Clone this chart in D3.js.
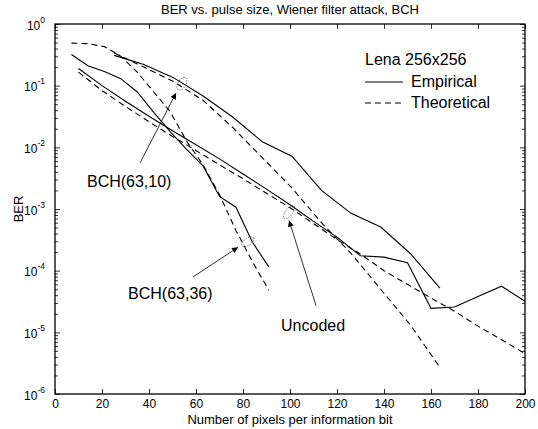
<!DOCTYPE html>
<html>
<head>
<meta charset="utf-8">
<script src="https://cdn.jsdelivr.net/npm/d3@7"></script>
<style>
  body { margin: 0; background: #fff; }
  svg { font-family: "Liberation Sans", Arial, Helvetica, sans-serif; }
</style>
</head>
<body>
<div id="chart"></div>
<script>

// ---- data ----
const xTicks = [0, 20, 40, 60, 80, 100, 120, 140, 160, 180, 200];
const yDecades = [0, -1, -2, -3, -4, -5, -6];

// uncoded
const uncodedX = [10, 20, 30, 40, 50, 60, 70, 80, 90, 100, 110, 120, 130, 140, 150, 160, 170, 180, 190, 200];
const uncodedEmp = [0.19, 0.10, 0.056, 0.032, 0.0186, 0.011, 0.0065, 0.0037, 0.0021, 0.00117,
  6.3e-4, 3.5e-4, 1.74e-4, 1.66e-4, 1.35e-4, 2.45e-5, 2.57e-5, 3.8e-5, 5.6e-5, 3.2e-5];
const uncodedTheo = [0.166, 0.083, 0.046, 0.026, 0.015, 0.0089, 0.0052, 0.0031, 0.0018, 0.00105,
  5.8e-4, 3.2e-4, 1.85e-4, 1.0e-4, 6.0e-5, 3.6e-5, 2.2e-5, 1.26e-5, 7.6e-6, 4.5e-6];

// BCH(63,36)
const bch36X = [7, 14, 21, 28, 35, 42, 49, 56, 63, 70, 77, 84, 91];
const bch36Emp = [0.32, 0.21, 0.17, 0.13, 0.079, 0.037, 0.018, 0.0093, 0.005, 0.0016, 0.00107, 2.9e-4, 1.15e-4];
const bch36Theo = [0.49, 0.48, 0.43, 0.30, 0.166, 0.079, 0.038, 0.0126, 0.0052, 0.0017, 4.5e-4, 1.4e-4, 4.8e-5];

// BCH(63,10)
const bch10X = [25.2, 37.8, 50.4, 63, 75.6, 88.2, 100.8, 113.4, 126, 138.6, 151.2, 163.8];
const bch10Emp = [0.31, 0.22, 0.135, 0.068, 0.031, 0.0123, 0.0072, 0.002, 8.5e-4, 5.1e-4, 1.9e-4, 5.2e-5];
const bch10Theo = [0.34, 0.2, 0.117, 0.058, 0.021, 0.0068, 0.0022, 6.0e-4, 1.9e-4, 5.0e-5, 1.32e-5, 2.7e-6];

// annotations: label, text anchor (x, BER), arrow tail and head (x, BER), ellipse centre (x, BER)
const annLabels = ["BCH(63,10)", "BCH(63,36)", "Uncoded"];
const annText = [[13.6, 2.3e-3], [31.1, 3.5e-5], [96.2, 1.05e-5]];
const annFrom = [[36.2, 5.6e-3], [58.7, 7.9e-5], [111.1, 2.7e-5]];
const annTo = [[51.5, 7.6e-2], [77.9, 2.4e-4], [99.6, 6.5e-4]];
const annEllipse = [[54, 0.107], [82.1, 2.95e-4], [99.6, 8.9e-4]];

const legendTitle = "Lena 256x256";
const legendLabels = ["Empirical", "Theoretical"];

// ---- layout ----
const W = 538, H = 429;
const margin = {top: 24, right: 13, bottom: 35, left: 55};
const width = W - margin.left - margin.right,
      height = H - margin.top - margin.bottom;

const svg = d3.select("#chart").append("svg")
  .attr("width", W).attr("height", H);

svg.append("defs").append("marker")
  .attr("id", "arrow")
  .attr("viewBox", "0 0 10 10")
  .attr("refX", 10).attr("refY", 5)
  .attr("markerWidth", 8).attr("markerHeight", 6)
  .attr("markerUnits", "userSpaceOnUse")
  .attr("orient", "auto")
  .append("path").attr("d", "M0,0 L10,5 L0,10 z").attr("fill", "#000");

const g = svg.append("g")
  .attr("transform", "translate(" + margin.left + "," + margin.top + ")");

const x = d3.scaleLinear().domain([0, 200]).range([0, width]);
const y = d3.scaleLog().domain([1e-6, 1]).range([height, 0]);

// minor log ticks
const minorTicks = [];
for (let e = -6; e < 0; e++)
  for (let m = 2; m <= 9; m++) minorTicks.push(m * Math.pow(10, e));
const majorTicks = yDecades.map(e => Math.pow(10, e));

// x axes (ticks inward)
g.append("g")
  .attr("class", "axis")
  .attr("transform", "translate(0," + height + ")")
  .call(d3.axisBottom(x).tickValues(xTicks).tickSize(-5).tickPadding(5).tickFormat(d3.format("d")));
g.append("g")
  .attr("class", "axis")
  .call(d3.axisTop(x).tickValues(xTicks).tickSize(-5).tickFormat(""));

// y axes
g.append("g").attr("class", "axis")
  .call(d3.axisLeft(y).tickValues(minorTicks).tickSize(-3).tickFormat(""));
g.append("g").attr("class", "axis")
  .attr("transform", "translate(" + width + ",0)")
  .call(d3.axisRight(y).tickValues(minorTicks).tickSize(-3).tickFormat(""));
g.append("g").attr("class", "axis")
  .attr("transform", "translate(" + width + ",0)")
  .call(d3.axisRight(y).tickValues(majorTicks).tickSize(-5).tickFormat(""));
const yAxis = g.append("g").attr("class", "axis")
  .call(d3.axisLeft(y).tickValues(majorTicks).tickSize(-5).tickFormat(""));

yAxis.selectAll(".tick").append("text")
  .attr("dy", 5)
  .text("10")
  .append("tspan")
  .attr("dy", -7)
  .text(d => Math.round(Math.log10(d)));

g.selectAll(".axis path.domain").remove();
g.selectAll(".axis line").attr("stroke", "#000").attr("stroke-width", 0.8);
g.selectAll(".axis text").attr("font-size", 12).attr("fill", "#000");
yAxis.selectAll("text").attr("x", -10).attr("text-anchor", "end");
yAxis.selectAll("tspan").attr("font-size", 8.5);

// frame
g.append("rect")
  .attr("width", width).attr("height", height)
  .attr("fill", "none").attr("stroke", "#000").attr("stroke-width", 1.3);

// curves
const line = d3.line().x(d => x(d[0])).y(d => y(d[1]));
const series = [
  {xs: uncodedX, ys: uncodedEmp, dash: null},
  {xs: uncodedX, ys: uncodedTheo, dash: "6,4"},
  {xs: bch36X, ys: bch36Emp, dash: null},
  {xs: bch36X, ys: bch36Theo, dash: "6,4"},
  {xs: bch10X, ys: bch10Emp, dash: null},
  {xs: bch10X, ys: bch10Theo, dash: "6,4"}
];
g.selectAll("path.curve")
  .data(series)
  .enter()
  .append("path")
    .attr("class", "curve")
    .attr("d", s => line(s.xs.map((v, i) => [v, s.ys[i]])))
    .attr("fill", "none")
    .attr("stroke", "#000")
    .attr("stroke-width", 1.1)
    .attr("stroke-dasharray", s => s.dash);

// ellipses marking each pair
const ellRot = [-58, -35, -52], ellRx = [7, 7, 8], ellRy = [4, 3.5, 3.5];
g.selectAll("ellipse.mark")
  .data(annEllipse)
  .enter()
  .append("ellipse")
    .attr("class", "mark")
    .attr("transform", (d, i) => "translate(" + x(d[0]) + "," + y(d[1]) + ") rotate(" + ellRot[i] + ")")
    .attr("rx", (d, i) => ellRx[i]).attr("ry", (d, i) => ellRy[i])
    .attr("fill", "none").attr("stroke", "#666")
    .attr("stroke-width", 0.9).attr("stroke-dasharray", "1.3,1.2");

// arrows
g.selectAll("line.arrow")
  .data(annFrom)
  .enter()
  .append("line")
    .attr("class", "arrow")
    .attr("x1", d => x(d[0])).attr("y1", d => y(d[1]))
    .attr("x2", (d, i) => x(annTo[i][0])).attr("y2", (d, i) => y(annTo[i][1]))
    .attr("stroke", "#000").attr("stroke-width", 0.8)
    .attr("marker-end", "url(#arrow)");

// labels
g.selectAll("text.ann")
  .data(annLabels)
  .enter()
  .append("text")
    .attr("class", "ann")
    .attr("x", (d, i) => x(annText[i][0]))
    .attr("y", (d, i) => y(annText[i][1]))
    .attr("font-size", 16)
    .text(d => d);

// legend
const lg = g.append("g").attr("transform", "translate(" + (width - 160) + ",0)");
lg.append("text").attr("x", 0).attr("y", 41).attr("font-size", 16).text(legendTitle);
legendLabels.forEach(function(lab, i) {
  const yy = 58 + i * 21;
  lg.append("line")
    .attr("x1", 0).attr("x2", 38).attr("y1", yy).attr("y2", yy)
    .attr("stroke", "#000").attr("stroke-width", 1.1)
    .attr("stroke-dasharray", i === 1 ? "6,4" : null);
  lg.append("text").attr("x", 46).attr("y", yy + 5).attr("font-size", 16).text(lab);
});

// titles
svg.append("text")
  .attr("x", margin.left + width / 2).attr("y", 14)
  .attr("text-anchor", "middle").attr("font-size", 13)
  .text("BER vs. pulse size, Wiener filter attack, BCH");
svg.append("text")
  .attr("x", margin.left + width / 2).attr("y", 424)
  .attr("text-anchor", "middle").attr("font-size", 13)
  .text("Number of pixels per information bit");
svg.append("text")
  .attr("transform", "translate(23," + (margin.top + height / 2) + ") rotate(-90)")
  .attr("text-anchor", "middle").attr("font-size", 13)
  .text("BER");

</script>
</body>
</html>
